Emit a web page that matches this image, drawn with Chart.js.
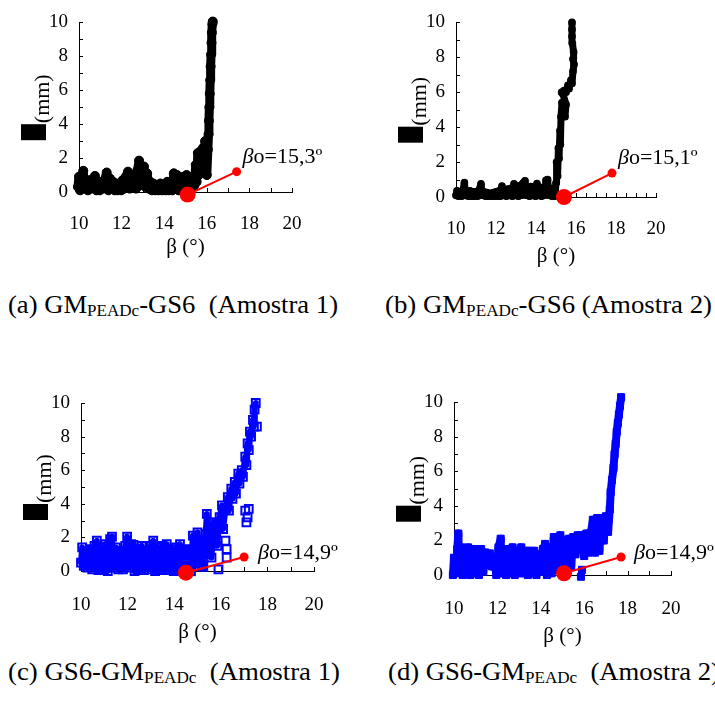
<!DOCTYPE html>
<html><head><meta charset="utf-8">
<script src="https://cdn.jsdelivr.net/npm/chart.js@4/dist/chart.umd.min.js"></script>
<style>
html,body{margin:0;padding:0;background:#fff;width:715px;height:702px;overflow:hidden;position:relative;}
.panel{position:absolute;}
.cap{position:absolute;font-family:'Liberation Serif',serif;font-size:25px;white-space:pre;color:#000;transform-origin:0 50%;line-height:1;}
.cap .sb{font-size:16px;position:relative;top:3px;}
</style></head><body>
<canvas id="ca" class="panel" width="357" height="270" style="left:0;top:0"></canvas>
<canvas id="cb" class="panel" width="358" height="270" style="left:357px;top:0"></canvas>
<canvas id="cc" class="panel" width="357" height="270" style="left:0;top:380px"></canvas>
<canvas id="cd" class="panel" width="358" height="270" style="left:357px;top:380px"></canvas>
<div class="cap" data-w="330" style="left:8px;top:292px">(a) GM<span class="sb">PEADc</span>-GS6  (Amostra 1)</div>
<div class="cap" data-w="327" style="left:385px;top:292px">(b) GM<span class="sb">PEADc</span>-GS6 (Amostra 2)</div>
<div class="cap" data-w="332" style="left:8px;top:659px">(c) GS6-GM<span class="sb">PEADc</span>  (Amostra 1)</div>
<div class="cap" data-w="332" style="left:388px;top:659px">(d) GS6-GM<span class="sb">PEADc</span>  (Amostra 2)</div>
<script>
// ---------- DATA ----------
const xTitle = 'β (°)';
const yTitle = '(mm)';

// (a) GM_PEADc-GS6 (Amostra 1)
const aBeta = [9.95,10.0,10.05,10.12,10.2,10.25,10.35,10.42,10.5,10.58,10.65,10.75,10.82,10.9,10.98,11.05,11.12,11.2,11.3,11.38,11.45,11.52,11.6,11.68,11.75,11.82,11.9,11.98,12.05,12.12,12.2,12.3,12.38,12.45,12.52,12.6,12.68,12.75,12.82,12.88,12.95,13.05,13.12,13.2,13.28,13.35,13.42,13.5,13.58,13.66,13.74,13.82,13.9,13.98,14.06,14.14,14.22,14.3,14.38,14.45,14.52,14.6,14.68,14.75,14.82,14.9,14.98,15.05,15.12,15.2,15.28,15.35,15.42,15.48,15.52,15.58,15.62,15.7,15.75,15.82,15.88,15.92,16.0,16.05,16.08,16.1,16.12,16.14,16.16,16.18,16.2,16.22,16.24,16.26,16.28];
const aDisp = [0.3,0.9,0.1,0.7,1.25,0.2,0.6,0.1,0.7,0.2,0.5,0.95,0.1,0.5,0.1,0.6,0.2,0.7,1.15,0.1,0.8,0.2,0.6,0.1,0.5,0.1,0.4,0.1,0.7,0.2,0.9,1.2,0.2,1.0,0.3,0.9,0.2,1.3,1.85,0.4,1.1,1.5,0.3,1.1,0.2,0.6,0.1,0.5,0.1,0.4,0.1,0.5,0.1,0.4,0.1,0.6,0.1,0.5,0.1,1.1,0.2,1.0,0.1,0.8,0.1,0.9,0.2,1.0,0.3,0.8,0.2,0.9,0.4,1.6,0.6,2.3,1.0,2.4,1.2,2.6,1.3,3.0,1.0,2.5,3.4,4.2,5.0,5.8,6.6,7.4,8.1,8.8,9.4,9.9,10.05];
const aOnsetBeta = [15.1, 17.4];
const aOnsetDisp = [-0.15, 1.2];
const aOnsetText = 'o=15,3º';

// (b) GM_PEADc-GS6 (Amostra 2)
const bBeta = [10.0,10.05,10.12,10.2,10.28,10.35,10.42,10.48,10.55,10.62,10.7,10.78,10.85,10.92,11.0,11.08,11.15,11.25,11.32,11.4,11.48,11.55,11.62,11.7,11.78,11.85,11.92,12.0,12.08,12.15,12.22,12.3,12.38,12.45,12.52,12.6,12.68,12.75,12.82,12.9,12.98,13.05,13.12,13.2,13.28,13.35,13.45,13.52,13.6,13.68,13.75,13.82,13.9,13.98,14.05,14.12,14.2,14.28,14.35,14.42,14.5,14.58,14.65,14.72,14.8,14.88,14.95,15.0,15.03,15.08,15.12,15.15,15.2,15.22,15.25,15.3,15.45,15.5,15.35,15.28,15.4,15.5,15.6,15.65,15.75,15.8,15.85,15.9,15.85,15.88,15.82,15.8,15.8,15.8];
const bDisp = [0.1,0.35,0.05,0.3,0.05,0.4,0.82,0.1,0.3,0.05,0.35,0.05,0.3,0.05,0.3,0.05,0.4,0.75,0.1,0.3,0.05,0.25,0.05,0.2,0.05,0.25,0.05,0.3,0.05,0.35,0.05,0.62,0.1,0.4,0.05,0.45,0.1,0.5,0.05,0.75,0.1,0.6,0.05,0.65,0.1,0.8,0.92,0.1,0.55,0.05,0.6,0.1,0.5,0.05,0.77,0.1,0.5,0.05,0.55,0.1,0.95,1.0,0.1,0.5,0.05,0.4,0.05,0.8,2.0,1.2,2.8,2.2,3.8,3.0,4.6,5.4,4.6,5.3,5.9,6.0,6.1,6.0,6.4,6.2,6.7,6.5,7.2,7.6,7.9,8.3,8.8,9.2,9.6,10.0];
const bOnsetBeta = [15.4, 17.8];
const bOnsetDisp = [0.0, 1.37];
const bOnsetText = 'o=15,1º';

// (c) GS6-GM_PEADc (Amostra 1)
const cBeta = [10.0,10.05,10.12,10.2,10.28,10.38,10.48,10.58,10.68,10.75,10.85,10.95,11.05,11.15,11.25,11.33,11.4,11.5,11.6,11.7,11.8,11.9,11.98,12.05,12.15,12.25,12.3,12.4,12.5,12.6,12.7,12.8,12.9,13.0,13.1,13.18,13.28,13.38,13.48,13.58,13.68,13.78,13.88,13.98,14.08,14.18,14.25,14.35,14.45,14.55,14.65,14.72,14.8,14.9,15.0,15.1,15.2,15.25,15.35,15.4,15.45,15.55,15.6,15.7,15.8,15.85,15.95,16.05,16.1,16.2,16.3,16.35,16.45,16.5,16.6,16.65,16.75,16.8,16.9,16.95,17.05,17.1,17.15,17.2,17.25,17.3,17.38,17.42,17.45,17.5];
const cDisp = [0.5,1.4,0.3,1.2,0.2,1.3,0.1,1.5,1.8,0.05,1.4,0.1,1.6,0.0,1.9,2.05,0.2,1.4,0.1,1.2,0.1,1.5,2.05,0.2,1.6,1.55,0.0,1.3,0.1,1.5,0.05,1.2,0.1,1.5,1.8,0.0,1.4,0.1,1.5,0.05,1.6,0.1,1.3,0.0,1.4,0.1,1.6,0.0,1.2,0.1,1.3,0.0,2.1,0.3,2.3,0.5,1.8,0.3,2.2,3.4,1.0,2.6,0.8,2.9,2.9,1.5,3.2,3.9,2.5,3.7,4.4,3.6,4.9,4.3,5.3,4.6,5.8,5.2,6.0,5.6,6.8,6.3,7.6,7.2,8.3,8.0,9.0,8.6,9.6,10.0];
const cLooseBeta = [15.9,15.2,16.25,16.25,16.2,17.05,17.15,17.1,17.2,17.55];
const cLooseDisp = [0.1,0.25,0.8,1.3,1.8,3.6,3.2,2.9,3.7,8.6];
const cOnsetBeta = [14.5, 17.0];
const cOnsetDisp = [-0.1, 0.83];
const cOnsetText = 'o=14,9º';

// (d) GS6-GM_PEADc (Amostra 2)
const dBeta = [9.95,10.0,10.08,10.15,10.2,10.25,10.32,10.4,10.5,10.6,10.65,10.75,10.85,10.95,11.05,11.15,11.25,11.35,11.45,11.55,11.65,11.75,11.85,11.95,12.05,12.15,12.2,12.3,12.4,12.5,12.6,12.7,12.8,12.9,13.0,13.1,13.2,13.3,13.4,13.5,13.6,13.7,13.8,13.9,14.0,14.1,14.2,14.28,14.4,14.5,14.6,14.7,14.8,14.9,15.0,15.1,15.2,15.3,15.4,15.5,15.6,15.7,15.8,15.9,16.0,16.1,16.2,16.3,16.4,16.5,16.6,16.7,16.8,16.9,17.0,17.1,17.18,17.22,17.28,17.35,17.4,17.45,17.5,17.55,17.6,17.65,17.7];
const dDisp = [0.0,1.0,0.1,1.5,2.4,0.2,1.6,0.0,1.5,0.1,1.6,0.0,1.5,0.1,1.5,0.0,1.5,0.2,1.3,0.6,1.25,0.5,1.0,0.0,1.6,2.1,0.1,1.5,0.0,1.5,0.1,1.6,0.0,1.4,0.1,1.6,0.1,1.4,0.0,1.4,0.1,1.4,0.0,1.2,0.2,1.5,1.8,0.0,1.6,0.1,2.2,0.3,2.1,2.3,0.5,2.0,0.8,2.1,0.5,2.2,1.2,2.3,1.5,2.3,1.1,2.4,1.3,2.4,3.2,1.3,3.3,1.4,3.3,2.0,3.4,2.5,3.8,4.8,5.5,6.2,7.0,7.6,8.3,8.8,9.3,9.8,10.3];
const dLooseBeta = [15.85,15.9];
const dLooseDisp = [-0.1,0.3];
const dOnsetBeta = [15.07, 17.7];
const dOnsetDisp = [0.1, 1.04];
const dOnsetText = 'o=14,9º';

// ---------- RENDER ----------
const SERIF = '"Liberation Serif", "Times New Roman", serif';
const RED = '#ff0000', BLUE = '#0000ff', BLACK = '#000000';
Chart.defaults.font.family = SERIF;
const pts = (xs, ys) => xs.map((v, i) => ({x: v, y: ys[i]}));

const decor = {
  id: 'decor',
  beforeDatasetsDraw(chart, args, o) {
    const {ctx, chartArea: ca, scales: {x, y}} = chart;
    ctx.save();
    ctx.strokeStyle = '#000'; ctx.lineWidth = 1;
    ctx.beginPath();
    for (let v = 1; v <= 10; v += 1) {
      const py = Math.round(y.getPixelForValue(v)) + 0.5;
      ctx.moveTo(ca.left, py); ctx.lineTo(ca.left + 4, py);
    }
    for (let k = 1; 10 + k * o.xMinor <= 20.001; k++) {
      const px = Math.round(x.getPixelForValue(10 + k * o.xMinor)) + 0.5;
      ctx.moveTo(px, ca.bottom); ctx.lineTo(px, ca.bottom - 4);
    }
    ctx.stroke();
    ctx.restore();
  },
  afterDraw(chart, args, o) {
    const {ctx, chartArea: ca, scales: {x, y}} = chart;
    ctx.save();
    const bRight = ca.left - 33;
    const bTop = (ca.top + ca.bottom) / 2 + 17;
    ctx.fillStyle = '#000';
    ctx.fillRect(bRight - 25, bTop, 25, 16);
    ctx.translate(bRight - 4, bTop - 1);
    ctx.rotate(-Math.PI / 2);
    ctx.font = '22px ' + SERIF;
    ctx.textAlign = 'left'; ctx.textBaseline = 'middle';
    ctx.fillText(o.yTitle, 0, 1);
    ctx.restore();
    ctx.save();
    const lx = x.getPixelForValue(o.onsetBeta[1]) + o.lblDx;
    const ly = y.getPixelForValue(o.onsetDisp[1]) + o.lblDy;
    ctx.fillStyle = '#000';
    ctx.textBaseline = 'middle'; ctx.textAlign = 'left';
    ctx.font = 'italic 22px ' + SERIF;
    ctx.fillText('β', lx, ly);
    const wb = ctx.measureText('β').width;
    ctx.font = '22px ' + SERIF;
    ctx.fillText(o.onsetText, lx + wb, ly);
    ctx.restore();
  }
};

function makeChart(id, g, main, loose, onsetBeta, onsetDisp, onsetText) {
  const canvas = document.getElementById(id);
  const W = canvas.width, H = canvas.height;
  const xH = g.titleY + 10 - g.bottom;
  const datasets = [
    { data: pts(onsetBeta, onsetDisp), showLine: true, borderColor: RED, borderWidth: 2,
      backgroundColor: RED, pointBorderColor: RED, pointRadius: [8, 4.5], pointBorderWidth: 0, clip: false },
    { data: pts(main.xs, main.ys), showLine: true, borderColor: main.color, borderWidth: main.lw,
      borderJoinStyle: 'round', borderCapStyle: 'round', tension: 0,
      pointStyle: main.ps, pointRadius: main.r, pointBorderWidth: main.pbw,
      pointBorderColor: main.color, pointBackgroundColor: main.fill, clip: false }
  ];
  if (loose) datasets.push({ data: pts(loose.xs, loose.ys), showLine: false,
      pointStyle: main.ps, pointRadius: main.r, pointBorderWidth: main.pbw,
      pointBorderColor: main.color, pointBackgroundColor: main.fill, clip: false });
  return new Chart(canvas, {
    type: 'scatter',
    data: { datasets },
    plugins: [decor],
    options: {
      responsive: false, animation: false, events: [], devicePixelRatio: 1,
      layout: { padding: { left: g.left - 40, top: g.top, right: W - g.right, bottom: H - g.bottom - xH } },
      plugins: { legend: { display: false }, tooltip: { enabled: false },
        decor: { xMinor: g.xMinor, yTitle, onsetBeta, onsetDisp, onsetText, lblDx: g.lblDx, lblDy: g.lblDy } },
      scales: {
        x: { type: 'linear', min: 10, max: 20,
          afterFit: s => { s.height = xH; },
          ticks: { stepSize: 2, color: '#000', padding: g.xPad, font: { family: SERIF, size: 19 }, maxRotation: 0 },
          grid: { display: true, drawOnChartArea: false, drawTicks: false },
          border: { display: true, color: '#000', width: 1 },
          title: { display: true, text: xTitle, color: '#000', padding: 0, font: { family: SERIF, size: 21, lineHeight: 1 } } },
        y: { type: 'linear', min: 0, max: 10,
          afterFit: s => { s.width = 40; },
          ticks: { stepSize: 2, color: '#000', padding: 11, font: { family: SERIF, size: 19 } },
          grid: { display: true, drawOnChartArea: false, drawTicks: false },
          border: { display: true, color: '#000', width: 1 } }
      }
    }
  });
}

makeChart('ca', {left: 79, right: 292, top: 20, bottom: 192, titleY: 248, xPad: 21, xMinor: 1, lblDx: 6, lblDy: -14},
  {xs: aBeta, ys: aDisp, color: BLACK, fill: BLACK, lw: 9, ps: 'circle', r: 4.5, pbw: 1}, null, aOnsetBeta, aOnsetDisp, aOnsetText);
makeChart('cb', {left: 99, right: 299, top: 15, bottom: 197, titleY: 257, xPad: 21, xMinor: 0.5, lblDx: 6, lblDy: -15},
  {xs: bBeta, ys: bDisp, color: BLACK, fill: 'rgba(255,255,255,0)', lw: 7, ps: 'circle', r: 3.2, pbw: 1.3}, null, bOnsetBeta, bOnsetDisp, bOnsetText);
makeChart('cc', {left: 81, right: 314, top: 23, bottom: 191, titleY: 253, xPad: 23, xMinor: 1, lblDx: 14, lblDy: -4},
  {xs: cBeta, ys: cDisp, color: BLUE, fill: 'rgba(255,255,255,0)', lw: 6, ps: 'rect', r: 5.5, pbw: 2},
  {xs: cLooseBeta, ys: cLooseDisp}, cOnsetBeta, cOnsetDisp, cOnsetText);
makeChart('cd', {left: 97, right: 314, top: 22, bottom: 195, titleY: 257, xPad: 23, xMinor: 1, lblDx: 13, lblDy: -4},
  {xs: dBeta, ys: dDisp, color: BLUE, fill: BLUE, lw: 8, ps: 'rect', r: 5, pbw: 1},
  {xs: dLooseBeta, ys: dLooseDisp}, dOnsetBeta, dOnsetDisp, dOnsetText);

document.querySelectorAll('.cap').forEach(el => {
  const w = el.getBoundingClientRect().width;
  el.style.transform = 'scaleX(' + (parseFloat(el.dataset.w) / w) + ')';
});
</script>
</body></html>
